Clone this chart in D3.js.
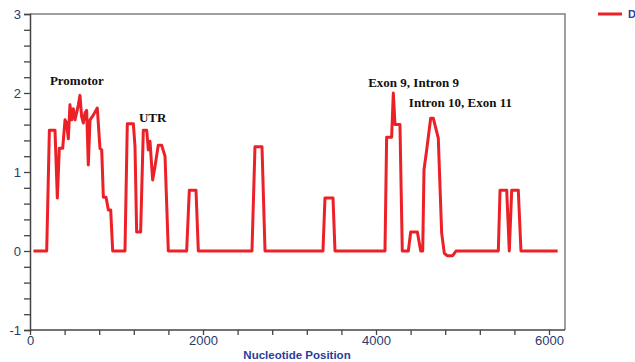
<!DOCTYPE html>
<html>
<head>
<meta charset="utf-8">
<script src="https://cdn.jsdelivr.net/npm/d3@7"></script>
<style>
  body { margin: 0; background: #fff; }
  svg { display: block; }
</style>
</head>
<body>
<svg id="chart" width="635" height="362"></svg>
<script>
// DATA
const positions = [40, 193, 224, 289, 316, 339, 378, 405, 424, 443, 462, 482, 501, 520, 539, 559, 578, 597, 617, 636,
  655, 674, 694, 732, 778, 809, 829, 848, 879, 906, 933, 956, 1098, 1125, 1195, 1214, 1233, 1279, 1310, 1349,
  1368, 1387, 1418, 1445, 1483, 1522, 1561, 1599, 1811, 1842, 1919, 1946, 2566, 2601, 2682, 2717, 3387, 3410, 3503, 3526,
  4104, 4123, 4181, 4200, 4220, 4277, 4304, 4374, 4401, 4478, 4517, 4540, 4555, 4586, 4632, 4663, 4720, 4759, 4790, 4825,
  4886, 4925, 5414, 5434, 5511, 5541, 5569, 5645, 5676, 6100];
const values = [0, 0, 1.53, 1.53, 0.67, 1.30, 1.30, 1.66, 1.62, 1.42, 1.85, 1.66, 1.80, 1.66, 1.75, 1.85, 1.97, 1.70, 1.62, 1.75,
  1.78, 1.09, 1.66, 1.72, 1.81, 1.30, 1.28, 0.68, 0.68, 0.52, 0.52, 0, 0, 1.61, 1.61, 1.32, 0.24, 0.24, 1.53, 1.53,
  1.28, 1.39, 0.90, 1.07, 1.34, 1.34, 1.2, 0, 0, 0.77, 0.77, 0, 0, 1.32, 1.32, 0, 0, 0.67, 0.67, 0,
  0, 1.44, 1.44, 2.0, 1.6, 1.6, 0, 0, 0.24, 0.24, 0, 0, 1.03, 1.28, 1.68, 1.68, 1.43, 0.23, -0.03, -0.06,
  -0.06, 0, 0, 0.77, 0.77, 0, 0.77, 0.77, 0, 0];

const xTickLabels = [0, 2000, 4000, 6000];
const yTickLabels = [-1, 0, 1, 2, 3];

const regionNames = ['Promotor', 'UTR', 'Exon 9, Intron 9', 'Intron 10, Exon 11'];
const regionAt = [[230, 2.1], [1260, 1.63], [3910, 2.08], [4380, 1.82]];

const seriesName = 'D';

// ////////////////////////////////////////////////////////////////////////////
// SET UP
// ////////////////////////////////////////////////////////////////////////////
const margin = { left: 30, top: 14, right: 70, bottom: 32 };
const width = 635, height = 362;
const svg = d3.select('#chart');

const x = d3.scaleLinear()
  .domain([0, 6185])
  .range([margin.left, width - margin.right]);
const y = d3.scaleLinear()
  .domain([-1, 3])
  .range([height - margin.bottom, margin.top]);

const axisColor = '#444';
const labelColor = '#2b3a6b';

// frame (top + right)
svg.append('path')
  .attr('d', `M${x.range()[0]},${y(3)}H${x.range()[1]}V${y(-1)}`)
  .attr('fill', 'none')
  .attr('stroke', '#808080')
  .attr('stroke-width', 1.5);

// x axis, minor ticks every 400
const xAxis = d3.axisBottom(x)
  .tickValues(d3.range(0, 6001, 400))
  .tickSize(5)
  .tickFormat(d => (xTickLabels.includes(d) ? d : ''));
const gx = svg.append('g')
  .attr('transform', `translate(0,${y(-1)})`)
  .call(xAxis);

// y axis, minor ticks every 0.2
const yAxis = d3.axisLeft(y)
  .tickValues(d3.range(-1, 3.001, 0.2).map(d => Math.round(d * 10) / 10))
  .tickSize(6)
  .tickFormat(d => (yTickLabels.includes(d) ? d : ''));
const gy = svg.append('g')
  .attr('transform', `translate(${x(0)},0)`)
  .call(yAxis);

[gx, gy].forEach((g) => {
  g.select('.domain').attr('stroke', axisColor).attr('stroke-width', 1.5);
  g.selectAll('.tick line').attr('stroke', axisColor).attr('stroke-width', 1.3);
  g.selectAll('.tick text')
    .attr('fill', labelColor)
    .style('font-family', 'Liberation Sans, Arial, sans-serif')
    .style('font-size', '13px');
});
gx.select('.domain').attr('d', `M${x.range()[0]},0H${x.range()[1]}`);
gy.selectAll('.tick text').attr('x', -9);
gx.selectAll('.tick text').attr('y', 6);

// x axis title
svg.append('text')
  .attr('x', 297)
  .attr('y', 359)
  .attr('text-anchor', 'middle')
  .attr('fill', '#2a3d9e')
  .style('font-family', 'Liberation Sans, Arial, sans-serif')
  .style('font-weight', 'bold')
  .style('font-size', '11.5px')
  .text('Nucleotide Position');

// ////////////////////////////////////////////////////////////////////////////
// LINE
// ////////////////////////////////////////////////////////////////////////////
const line = d3.line()
  .x(d => x(d[0]))
  .y(d => y(d[1]));

svg.append('path')
  .datum(d3.zip(positions, values))
  .attr('fill', 'none')
  .attr('stroke', '#ec2027')
  .attr('stroke-width', 3)
  .attr('stroke-linejoin', 'round')
  .attr('d', line);

// region labels
svg.selectAll('text.region')
  .data(regionNames)
  .enter()
  .append('text')
    .attr('class', 'region')
    .attr('x', (d, i) => x(regionAt[i][0]))
    .attr('y', (d, i) => y(regionAt[i][1]))
    .attr('fill', '#111')
    .style('font-family', 'Liberation Serif, Times New Roman, serif')
    .style('font-weight', 'bold')
    .style('font-size', '13px')
    .text(d => d);

// legend (cut off at the right edge)
svg.append('line')
  .attr('x1', 598).attr('x2', 622)
  .attr('y1', 14).attr('y2', 14)
  .attr('stroke', '#ec2027')
  .attr('stroke-width', 3);
svg.append('text')
  .attr('x', 628)
  .attr('y', 18)
  .attr('fill', '#2a3d9e')
  .style('font-family', 'Liberation Sans, Arial, sans-serif')
  .style('font-weight', 'bold')
  .style('font-size', '11px')
  .text(seriesName);
</script>
</body>
</html>
